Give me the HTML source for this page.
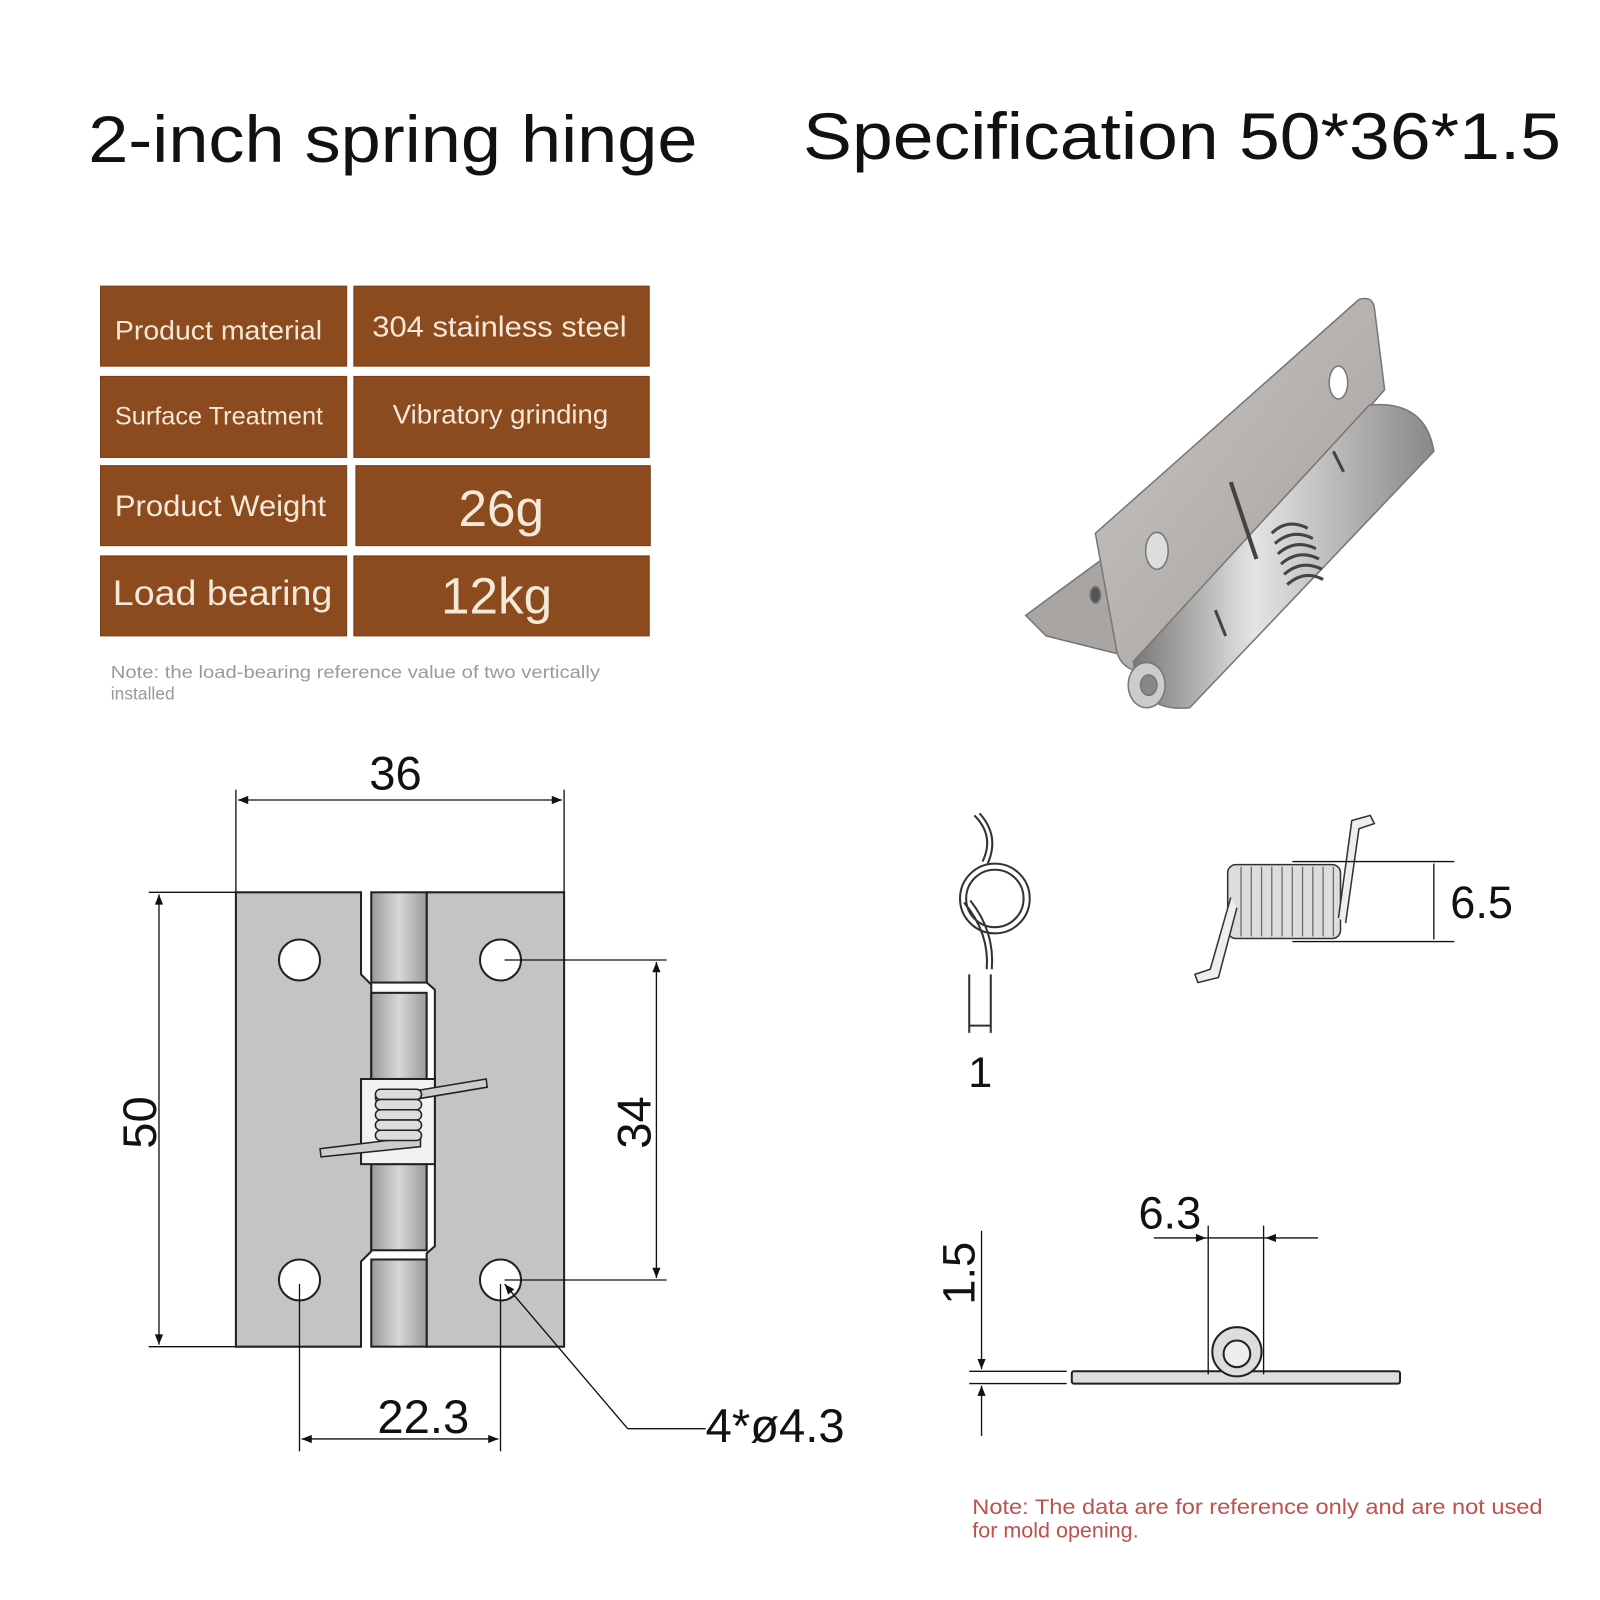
<!DOCTYPE html>
<html><head><meta charset="utf-8"><style>
html,body{margin:0;padding:0;background:#fff;width:1600px;height:1600px;overflow:hidden}
svg{display:block}
</style></head><body>
<svg width="1600" height="1600" viewBox="0 0 1560 1560" xmlns="http://www.w3.org/2000/svg" font-family="Liberation Sans, DejaVu Sans, sans-serif">
<defs>
<marker id="ar" viewBox="0 0 10 10" refX="10" refY="5" markerWidth="14" markerHeight="10" markerUnits="userSpaceOnUse" orient="auto-start-reverse"><path d="M0,1 L10,5 L0,9 z" fill="#111"/></marker>
<linearGradient id="kn" x1="0" x2="1"><stop offset="0" stop-color="#9a9a9a"/><stop offset="0.5" stop-color="#d8d8d8"/><stop offset="1" stop-color="#9a9a9a"/></linearGradient>
<linearGradient id="ms" x1="0" y1="0" x2="1" y2="1"><stop offset="0" stop-color="#c9c6c3"/><stop offset="1" stop-color="#a19e9b"/></linearGradient>
<linearGradient id="bar" x1="0" y1="0" x2="1" y2="0"><stop offset="0" stop-color="#7a7876"/><stop offset="0.4" stop-color="#e6e4e2"/><stop offset="1" stop-color="#8a8886"/></linearGradient>
</defs>
<text x="86" y="158" font-size="64" fill="#111" textLength="594" lengthAdjust="spacingAndGlyphs">2-inch spring hinge</text>
<text x="783" y="155" font-size="64" fill="#111" textLength="739" lengthAdjust="spacingAndGlyphs">Specification 50*36*1.5</text>

<g fill="#8c4a1f" stroke="#7a3d15" stroke-width="1">
<rect x="98" y="279" width="240" height="78"/><rect x="345" y="279" width="288" height="78"/>
<rect x="98" y="367" width="240" height="79"/><rect x="345" y="367" width="288" height="79"/>
<rect x="98" y="454" width="240" height="78"/><rect x="347" y="454" width="287" height="78"/>
<rect x="98" y="542" width="240" height="78"/><rect x="345" y="542" width="288" height="78"/>
</g>
<g fill="#f4e8d8">
<text x="112" y="331" font-size="26" textLength="202" lengthAdjust="spacingAndGlyphs">Product material</text>
<text x="363" y="328" font-size="28" textLength="248" lengthAdjust="spacingAndGlyphs">304 stainless steel</text>
<text x="112" y="414" font-size="24" textLength="203" lengthAdjust="spacingAndGlyphs">Surface Treatment</text>
<text x="383" y="413" font-size="26" textLength="210" lengthAdjust="spacingAndGlyphs">Vibratory grinding</text>
<text x="112" y="503" font-size="29" textLength="206" lengthAdjust="spacingAndGlyphs">Product Weight</text>
<text x="447" y="513" font-size="50">26g</text>
<text x="110" y="590" font-size="34" textLength="214" lengthAdjust="spacingAndGlyphs">Load bearing</text>
<text x="430" y="598" font-size="50">12kg</text>
</g>
<text x="108" y="661" font-size="17" fill="#999" textLength="477" lengthAdjust="spacingAndGlyphs">Note: the load-bearing reference value of two vertically</text>
<text x="108" y="682" font-size="17" fill="#999">installed</text>

<!-- hinge photo -->
<g stroke="#777" stroke-width="1.5">
<path d="M1000,600 L1075,545 L1100,640 L1020,620 Z" fill="#a8a5a2"/>
<path d="M1068,520 L1325,292 Q1338,288 1340,300 L1350,380 L1110,655 Q1090,650 1088,630 Z" fill="url(#ms)"/>
<path d="M1105,645 L1335,395 Q1390,390 1398,440 L1160,690 Q1110,695 1105,645 Z" fill="url(#bar)"/>
<ellipse cx="1118" cy="668" rx="18" ry="22" fill="#ccc"/>
<ellipse cx="1120" cy="668" rx="8" ry="10" fill="#888"/>
<ellipse cx="1305" cy="373" rx="9" ry="16" fill="#fff"/>
<ellipse cx="1128" cy="537" rx="11" ry="18" fill="#ddd"/>
<ellipse cx="1068" cy="580" rx="5" ry="8" fill="#555"/>
</g>
<g stroke="#444" stroke-width="3" fill="none">
<path d="M1240,520 Q1255,505 1275,515 M1243,530 Q1260,515 1280,525 M1246,540 Q1263,525 1283,535 M1249,550 Q1266,535 1286,545 M1252,560 Q1269,545 1289,555 M1255,570 Q1272,555 1290,565"/>
<path d="M1200,470 L1225,545" stroke-width="4"/>
<path d="M1185,595 L1195,620 M1300,440 L1310,460"/>
</g>

<!-- main drawing -->
<g stroke="#222" stroke-width="2">
<path d="M230,870 L352,870 L352,950 L362,960 L362,1220 L352,1230 L352,1313 L230,1313 Z" fill="#c4c4c4"/>
<path d="M416,870 L550,870 L550,1313 L416,1313 L416,1222 L424,1215 L424,965 L416,958 Z" fill="#c4c4c4"/>
<rect x="362" y="870" width="54" height="88" fill="url(#kn)"/>
<rect x="362" y="968" width="54" height="84" fill="url(#kn)"/>
<rect x="362" y="1135" width="54" height="84" fill="url(#kn)"/>
<rect x="362" y="1228" width="54" height="85" fill="url(#kn)"/>
<path d="M352,1052 L424,1052 L424,1135 L352,1135 Z" fill="#f2f2f2"/>
<g fill="#fff">
<circle cx="292" cy="936" r="20"/><circle cx="488" cy="936" r="20"/>
<circle cx="292" cy="1248" r="20"/><circle cx="488" cy="1248" r="20"/>
</g>
</g>
<g stroke="#222" stroke-width="1.5" fill="#ccc">
<path d="M366,1070 L474,1052 L475,1060 L368,1078 Z"/>
<path d="M312,1120 L410,1108 L410,1118 L313,1128 Z"/>
<g fill="#ddd">
<rect x="366" y="1062" width="45" height="10" rx="5"/><rect x="366" y="1072" width="45" height="10" rx="5"/>
<rect x="366" y="1082" width="45" height="10" rx="5"/><rect x="366" y="1092" width="45" height="10" rx="5"/>
<rect x="366" y="1102" width="45" height="10" rx="5"/>
</g>
</g>
<g stroke="#111" stroke-width="1.3" fill="none">
<line x1="230" y1="770" x2="230" y2="870"/><line x1="550" y1="770" x2="550" y2="870"/>
<line x1="232" y1="780" x2="548" y2="780" marker-start="url(#ar)" marker-end="url(#ar)"/>
<line x1="145" y1="870" x2="230" y2="870"/><line x1="145" y1="1313" x2="230" y2="1313"/>
<line x1="155" y1="872" x2="155" y2="1311" marker-start="url(#ar)" marker-end="url(#ar)"/>
<line x1="492" y1="936" x2="650" y2="936"/><line x1="492" y1="1248" x2="650" y2="1248"/>
<line x1="640" y1="938" x2="640" y2="1246" marker-start="url(#ar)" marker-end="url(#ar)"/>
<line x1="292" y1="1252" x2="292" y2="1415"/><line x1="488" y1="1252" x2="488" y2="1415"/>
<line x1="294" y1="1403" x2="486" y2="1403" marker-start="url(#ar)" marker-end="url(#ar)"/>
<line x1="612" y1="1393" x2="688" y2="1393"/>
<line x1="612" y1="1393" x2="492" y2="1252" marker-end="url(#ar)"/>
</g>
<g fill="#111" font-size="46">
<text x="360" y="770">36</text>
<text x="368" y="1397">22.3</text>
<text x="688" y="1406">4*ø4.3</text>
<text transform="translate(152,1120) rotate(-90)">50</text>
<text transform="translate(634,1120) rotate(-90)">34</text>
</g>

<!-- spring end view -->
<g stroke="#333" stroke-width="2" fill="none">
<circle cx="970" cy="876" r="34"/><circle cx="970" cy="876" r="28"/>
<path d="M950,795 Q970,815 958,840 M955,793 Q975,815 963,842"/>
<path d="M940,880 Q965,910 962,945 M946,878 Q970,908 967,945"/>
<path d="M945,950 L945,1007 M966,950 L966,1007 M945,1000 L966,1000"/>
</g>
<text x="944" y="1060" font-size="42" fill="#111">1</text>

<!-- spring side view -->
<g stroke="#333" stroke-width="1.5">
<rect x="1197" y="843" width="110" height="72" rx="8" fill="#ddd"/>
<g stroke="#666" stroke-width="1.2">
<line x1="1210" y1="845" x2="1210" y2="913"/><line x1="1220" y1="845" x2="1220" y2="913"/><line x1="1230" y1="845" x2="1230" y2="913"/><line x1="1240" y1="845" x2="1240" y2="913"/><line x1="1250" y1="845" x2="1250" y2="913"/><line x1="1260" y1="845" x2="1260" y2="913"/><line x1="1270" y1="845" x2="1270" y2="913"/><line x1="1280" y1="845" x2="1280" y2="913"/><line x1="1290" y1="845" x2="1290" y2="913"/><line x1="1300" y1="845" x2="1300" y2="913"/>
</g>
<path d="M1200,875 L1180,945 L1165,950 L1168,958 L1188,953 L1206,885" fill="#eee"/>
<path d="M1305,895 L1318,800 L1336,795 L1340,803 L1325,808 L1312,900" fill="#eee"/>
</g>
<g stroke="#111" stroke-width="1.3" fill="none">
<line x1="1260" y1="840" x2="1418" y2="840"/><line x1="1260" y1="918" x2="1418" y2="918"/>
<line x1="1398" y1="842" x2="1398" y2="916"/>
</g>
<text x="1414" y="895" font-size="44" fill="#111">6.5</text>

<!-- side profile -->
<g stroke="#222" stroke-width="2">
<rect x="1045" y="1337" width="320" height="12" rx="2" fill="#ddd"/>
<circle cx="1206" cy="1318" r="24" fill="#ddd"/>
<circle cx="1206" cy="1320" r="13" fill="#eee"/>
</g>
<g stroke="#111" stroke-width="1.3" fill="none">
<line x1="1178" y1="1195" x2="1178" y2="1340"/><line x1="1232" y1="1195" x2="1232" y2="1340"/>
<line x1="1125" y1="1207" x2="1176" y2="1207" marker-end="url(#ar)"/>
<line x1="1285" y1="1207" x2="1234" y2="1207" marker-end="url(#ar)"/>
<line x1="1176" y1="1207" x2="1234" y2="1207"/>
<line x1="945" y1="1337" x2="1040" y2="1337"/><line x1="945" y1="1349" x2="1040" y2="1349"/>
<line x1="957" y1="1200" x2="957" y2="1335" marker-end="url(#ar)"/>
<line x1="957" y1="1400" x2="957" y2="1351" marker-end="url(#ar)"/>
</g>
<text x="1110" y="1198" font-size="44" fill="#111">6.3</text>
<text transform="translate(950,1272) rotate(-90)" font-size="44" fill="#111">1.5</text>

<text x="948" y="1476" font-size="21" fill="#c0504d" textLength="556" lengthAdjust="spacingAndGlyphs">Note: The data are for reference only and are not used</text>
<text x="948" y="1499" font-size="21" fill="#c0504d">for mold opening.</text>
</svg>
</body></html>
